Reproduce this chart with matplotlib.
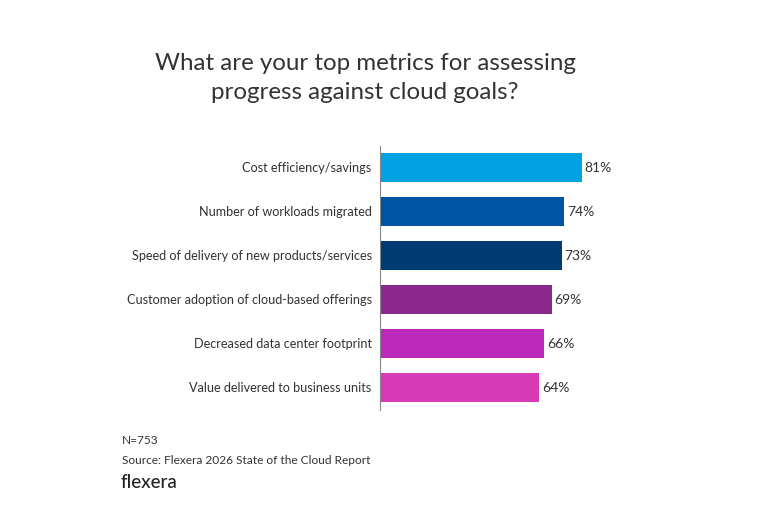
import matplotlib
matplotlib.use("Agg")
from matplotlib import pyplot as plt

plt.rcParams['font.family'] = ['Lato', 'DejaVu Sans']

# Survey data
labels = ["Cost efficiency/savings",
          "Number of workloads migrated",
          "Speed of delivery of new products/services",
          "Customer adoption of cloud-based offerings",
          "Decreased data center footprint",
          "Value delivered to business units"]
values = [81, 74, 73, 69, 66, 64]
colors = ["#00A2E1", "#0054A4", "#003B73", "#8B288C", "#BB29BB", "#D63AB5"]

W, H = 762, 526
fig = plt.figure(figsize=(W/100, H/100), dpi=100)

# axes placed in pixel terms
left, right, top, bottom = 380, 629, 145.5, 409.5
ax = fig.add_axes([left/W, 1-bottom/H, (right-left)/W, (bottom-top)/H])

y = list(range(len(labels)))
ax.barh(y, values, height=0.66, color=colors)
for i in y:
    ax.text(values[i]+1.0, i, str(values[i])+"%", va="center", ha="left",
            fontsize=10, color="#333333")

ax.set_xlim(0, 100)
ax.set_ylim(5.5, -0.5)
ax.set_yticks(y)
ax.set_yticklabels(labels, fontsize=9.1, color="#333333")
ax.tick_params(axis="y", length=0, pad=6)
ax.set_xticks([])
for s in ["top", "right", "bottom"]:
    ax.spines[s].set_visible(False)
ax.spines["left"].set_color("#888888")
ax.spines["left"].set_linewidth(0.8)

fig.text(365/W, 1-78/H, "What are your top metrics for assessing\nprogress against cloud goals?",
         ha="center", va="center", fontsize=17.4, color="#333333", linespacing=1.5)

fig.text(122/W, 1-440/H, "N=753", ha="left", va="center", fontsize=8.6, color="#333333")
fig.text(122/W, 1-460/H, "Source: Flexera 2026 State of the Cloud Report",
         ha="left", va="center", fontsize=8.6, color="#333333")
fig.text(121/W, 1-482/H, "flexera", ha="left", va="center", fontsize=13.5,
         color="#222222", fontweight="medium")

fig.savefig("out.png", dpi=100)
